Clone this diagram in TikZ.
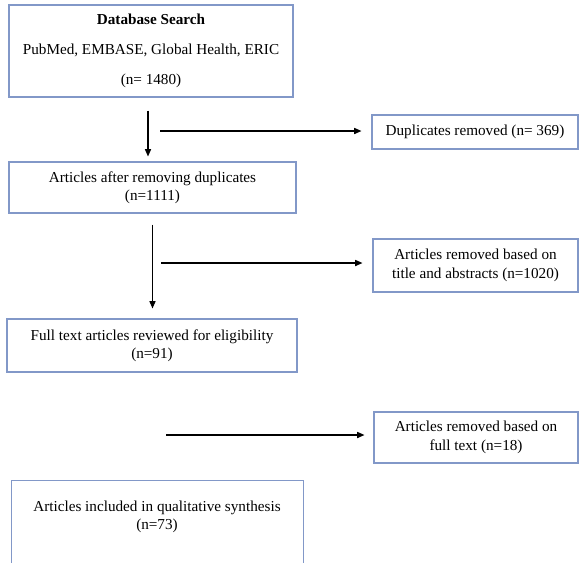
\documentclass[tikz,border=0pt]{standalone}
\usepackage{fontspec}
\setmainfont{Liberation Serif}
\usetikzlibrary{arrows.meta}
\definecolor{boxblue}{RGB}{130,152,200}
\tikzset{
  box/.style={draw=boxblue, line width=0.8pt, inner sep=0pt, align=center,
    font=\fontsize{11.4}{13.8}\selectfont},
  arr/.style={draw=black, line width=0.9pt, -{Triangle[length=5.5pt,width=4.6pt]}},
}
\begin{document}
\begin{tikzpicture}[x=0.75pt,y=-0.75pt]
\useasboundingbox (0,0) rectangle (579,562);
\node[box, minimum width=213pt, minimum height=69pt,
  font=\fontsize{11.4}{22.5}\selectfont] (b1) at (151,51)
  {\textbf{Database Search}\\PubMed, EMBASE, Global Health, ERIC\\(n= 1480)};
\node[box, minimum width=215.25pt, minimum height=38.25pt] (b2) at (152.5,187.5)
  {Articles after removing duplicates\\(n=1111)};
\node[box, minimum width=154.5pt, minimum height=25.5pt] (dup) at (475,132)
  {Duplicates removed (n= 369)};
\node[box, minimum width=153.75pt, minimum height=39.75pt] (r2) at (475.5,265.5)
  {Articles removed based on\\title and abstracts (n=1020)};
\node[box, minimum width=217.5pt, minimum height=39.75pt] (b3) at (152,345.5)
  {Full text articles reviewed for eligibility\\(n=91)};
\node[box, minimum width=153pt, minimum height=38.25pt] (r3) at (476,437.5)
  {Articles removed based on\\full text (n=18)};
\node[box, anchor=north west, minimum width=219pt, minimum height=90pt] (b4) at (11,480) {};
\node[font=\fontsize{11.4}{13.8}\selectfont, align=center, inner sep=0pt] (b4t) at (157,517)
  {Articles included in qualitative synthesis\\(n=73)};
% connectors
\draw[arr, shorten <=9.75pt, shorten >=3.75pt] ([xshift=-2.25pt]b1.south) -- ([xshift=-2.25pt]b1.south |- b2.north);
\draw[arr] ([shift={(-211,-1)}]dup.west) -- ([shift={(-10,-1)}]dup.west);
\draw[arr, shorten <=8.25pt, shorten >=7.5pt] (b2.south) -- (b2.south |- b3.north);
\draw[arr] ([shift={(-211,-2.5)}]r2.west) -- ([shift={(-10,-2.5)}]r2.west);
\draw[arr] ([shift={(-207,-2.5)}]r3.west) -- ([shift={(-9,-2.5)}]r3.west);
\end{tikzpicture}
\end{document}
